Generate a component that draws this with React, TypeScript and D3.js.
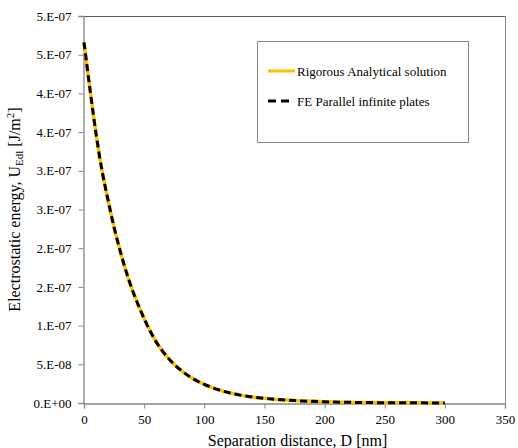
import React, {useRef, useEffect} from 'react';
import * as d3 from 'd3';

// separation distance D [nm] and electrostatic energy [J/m2]
const distances = [0, 5, 10, 15, 20, 25, 30, 35, 40, 45, 50, 60, 70, 80, 90, 100, 110, 120, 130, 140, 150, 160, 175, 200, 225, 250, 275, 300];
const analytical = [4.66e-7, 4.05e-7, 3.48e-7, 3.0e-7, 2.62e-7, 2.27e-7, 1.97e-7, 1.70e-7, 1.47e-7, 1.27e-7, 1.09e-7,
  7.9e-8, 5.8e-8, 4.3e-8, 3.2e-8, 2.4e-8, 1.8e-8, 1.35e-8, 1.02e-8, 7.8e-9, 6.0e-9, 4.6e-9, 3.1e-9, 1.6e-9, 8e-10, 4e-10, 2e-10, 1e-10];
const feParallel = analytical.slice();

const xTicks = [0, 50, 100, 150, 200, 250, 300, 350];
const yTicks = [0, 5e-8, 1e-7, 1.5e-7, 2e-7, 2.5e-7, 3e-7, 3.5e-7, 4e-7, 4.5e-7, 5e-7];
const yTickLabels = ["0.E+00", "5.E-08", "1.E-07", "2.E-07", "2.E-07", "3.E-07", "3.E-07", "4.E-07", "4.E-07", "5.E-07", "5.E-07"];

const seriesNames = ["Rigorous Analytical solution", "FE Parallel infinite plates"];

const layout = {width: 518, height: 448, left: 84, right: 505, top: 16, bottom: 403};

export default function App() {
  const ref = useRef<SVGSVGElement>(null);

  useEffect(() => {
    const svg = d3.select(ref.current);
    svg.selectAll("*").remove();

    const x = d3.scaleLinear().domain([0, 350]).range([layout.left, layout.right]);
    const y = d3.scaleLinear().domain([0, 5e-7]).range([layout.bottom, layout.top]);
    const font = "Liberation Serif, Times New Roman, DejaVu Serif, serif";

    // frame (top/right)
    svg.append("line").attr("x1", layout.left).attr("x2", layout.right)
      .attr("y1", layout.top + 0.5).attr("y2", layout.top + 0.5)
      .attr("stroke", "#5a5a5a").attr("stroke-width", 1);
    svg.append("line").attr("x1", layout.right + 0.5).attr("x2", layout.right + 0.5)
      .attr("y1", layout.top).attr("y2", layout.bottom)
      .attr("stroke", "#8a8a8a").attr("stroke-width", 1);

    // axes
    const xAxis = svg.append("g").attr("transform", `translate(0,${layout.bottom + 0.5})`)
      .call(d3.axisBottom(x).tickValues(xTicks).tickSize(5).tickFormat(d3.format("d")));
    const yAxis = svg.append("g").attr("transform", `translate(${layout.left - 0.5},0)`)
      .call(d3.axisLeft(y).tickValues(yTicks).tickSize(5).tickFormat((d, i) => yTickLabels[i]));
    [xAxis, yAxis].forEach(a => {
      a.attr("font-family", null).attr("font-size", null);
      a.select(".domain").attr("stroke", "#868686").attr("stroke-width", 1.3);
      a.selectAll(".tick line").attr("stroke", "#868686");
      a.selectAll("text").style("font-family", font).style("font-size", "13px").attr("fill", "#000");
    });
    xAxis.selectAll("text").attr("dy", "0.95em").attr("y", 8);
    yAxis.selectAll("text").attr("x", -12);

    const line = d3.line<number>()
      .x((d, i) => x(distances[i]))
      .y(d => y(d))
      .curve(d3.curveMonotoneX);

    svg.append("path").datum(analytical).attr("d", line)
      .attr("fill", "none").attr("stroke", "#FFC000").attr("stroke-width", 3.5);
    svg.append("path").datum(feParallel).attr("d", line)
      .attr("fill", "none").attr("stroke", "#000").attr("stroke-width", 3)
      .attr("stroke-dasharray", "7,4");

    // legend
    const lg = svg.append("g");
    lg.append("rect").attr("x", 257.5).attr("y", 41.5).attr("width", 211).attr("height", 101)
      .attr("fill", "#fff").attr("stroke", "#878787");
    const rows = [71, 101];
    lg.append("line").attr("x1", 268).attr("x2", 295).attr("y1", rows[0]).attr("y2", rows[0])
      .attr("stroke", "#FFC000").attr("stroke-width", 3);
    lg.append("line").attr("x1", 268).attr("x2", 293).attr("y1", rows[1]).attr("y2", rows[1])
      .attr("stroke", "#000").attr("stroke-width", 3).attr("stroke-dasharray", "8,5");
    seriesNames.forEach((n, i) => {
      lg.append("text").attr("x", 297).attr("y", rows[i] + 4.5)
        .style("font-family", font).style("font-size", "13px").text(n);
    });

    // axis titles
    svg.append("text").attr("x", (layout.left + layout.right) / 2 + 3).attr("y", 446)
      .attr("text-anchor", "middle").style("font-family", font).style("font-size", "16px")
      .text("Separation distance, D [nm]");

    const yt = svg.append("text")
      .attr("transform", `translate(20,${(layout.top + layout.bottom) / 2}) rotate(-90)`)
      .attr("text-anchor", "middle").style("font-family", font).style("font-size", "16px");
    yt.append("tspan").text("Electrostatic energy, U");
    yt.append("tspan").style("font-size", "11px").attr("dy", 3).text("Edl");
    yt.append("tspan").attr("dy", -3).text(" [J/m");
    yt.append("tspan").style("font-size", "11px").attr("dy", -6).text("2");
    yt.append("tspan").attr("dy", 6).text("]");
  }, []);

  return (
    <svg ref={ref} width={layout.width} height={layout.height}
         style={{position: "absolute", left: 0, top: 0, background: "#fff"}} />
  );
}
